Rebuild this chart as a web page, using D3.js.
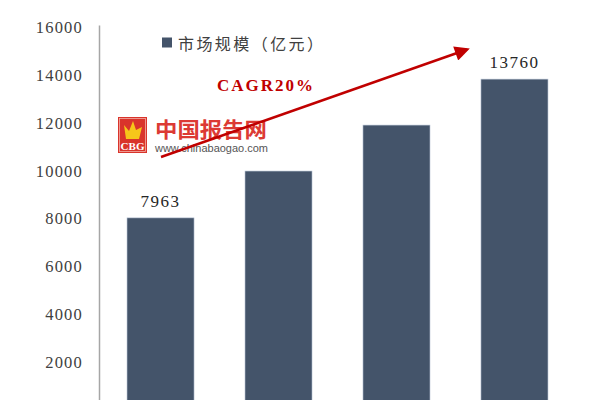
<!DOCTYPE html>
<html>
<head>
<meta charset="utf-8">
<script src="https://cdn.jsdelivr.net/npm/d3@7/dist/d3.min.js"></script>
<style>
  html, body { margin: 0; padding: 0; background: #fff; }
  svg { display: block; }
  .serif { font-family: "Liberation Serif", "Times New Roman", serif; }
</style>
</head>
<body>
<svg id="chart" width="600" height="400"></svg>
<script>
// ---- data ----
const categories = ["2016", "2017", "2018", "2019"];
const marketSize = [7963, 9920, 11840, 13760];      // 市场规模（亿元）
const labelShown = [true, false, false, true];
const yTicks = [2000, 4000, 6000, 8000, 10000, 12000, 14000, 16000];
const legendLabel = "市场规模（亿元）";
const cagrLabel = "CAGR20%";

// ---- layout ----
const svg = d3.select("#chart");
const x = d3.scaleBand().domain(categories).range([100, 575])
  .paddingInner(0.432).paddingOuter(0.229);
const y = d3.scaleLinear().domain([0, 16000]).range([408.5, 25.5]);

const barColor = "#44546a";
const textColor = "#404040";
const red = "#c00000";

// y axis line
svg.append("line")
  .attr("x1", 99.5).attr("x2", 99.5)
  .attr("y1", y(16000)).attr("y2", y(0))
  .attr("stroke", "#a6a6a6").attr("stroke-width", 1.5);

// y axis labels via d3 axis
const yAxis = d3.axisLeft(y).tickValues(yTicks).tickSize(0).tickPadding(0)
  .tickFormat(d3.format("d"));
const gy = svg.append("g").attr("transform", "translate(83,0)").call(yAxis);
gy.attr("font-family", null).attr("font-size", null);
gy.select(".domain").remove();
gy.selectAll("text")
  .attr("class", "serif")
  .style("font-family", '"Liberation Serif", "Times New Roman", serif')
  .style("font-size", "16.5px")
  .style("letter-spacing", "1.2px")
  .attr("fill", textColor)
  .attr("dy", "0.42em");

// bars
svg.selectAll("rect.bar").data(marketSize).enter().append("rect")
  .attr("class", "bar")
  .attr("x", (d, i) => x(categories[i]))
  .attr("width", x.bandwidth())
  .attr("y", d => y(d))
  .attr("height", d => y(0) - y(d))
  .attr("fill", barColor)
  .attr("stroke", "#b8c4d4").attr("stroke-width", 0.6);

// data labels
const labelData = marketSize.map((v, i) => ({ v, c: categories[i], show: labelShown[i] }))
  .filter(d => d.show);
svg.selectAll("text.val").data(labelData)
  .enter().append("text")
  .attr("class", "val")
  .attr("x", d => x(d.c) + x.bandwidth() / 2)
  .attr("y", d => y(d.v) - 11)
  .attr("text-anchor", "middle")
  .style("font-family", '"Liberation Serif", "Times New Roman", serif')
  .style("font-size", "17px")
  .style("letter-spacing", "1.5px")
  .attr("fill", "#262626")
  .text(d => d.v);

// legend
svg.append("rect").attr("x", 162).attr("y", 37.5).attr("width", 10).attr("height", 10)
  .attr("fill", barColor);
svg.append("text").attr("x", 178).attr("y", 50)
  .style("font-family", '"Noto Sans CJK SC", sans-serif')
  .style("font-size", "16px")
  .attr("textLength", 145).attr("lengthAdjust", "spacing")
  .attr("fill", textColor)
  .text(legendLabel);

// watermark logo
const logo = svg.append("g").attr("transform", "translate(118,117)");
logo.append("rect").attr("width", 29).attr("height", 36).attr("fill", "#d9342b");
logo.append("rect").attr("x", 1.5).attr("y", 1.5).attr("width", 26).attr("height", 33)
  .attr("fill", "none").attr("stroke", "#f3b0a8").attr("stroke-width", 0.8);
logo.append("path").attr("d", "M6,8 L11,14 L15,4 L18,13 L24,10 L21,22 L8,22 Z")
  .attr("fill", "#f6c61a");
logo.append("text").attr("x", 14.5).attr("y", 33).attr("text-anchor", "middle")
  .style("font-family", '"Liberation Serif", serif').style("font-size", "10px")
  .style("font-weight", "bold").attr("fill", "#fff")
  .attr("textLength", 24).attr("lengthAdjust", "spacingAndGlyphs").text("CBG");
svg.append("text").attr("x", 155).attr("y", 137)
  .style("font-family", '"Noto Sans CJK SC", sans-serif')
  .style("font-size", "21px").style("font-weight", "bold")
  .attr("textLength", 112).attr("lengthAdjust", "spacingAndGlyphs")
  .attr("fill", "#dc3a34").text("中国报告网");
svg.append("text").attr("x", 155).attr("y", 152)
  .style("font-family", '"Liberation Sans", Arial, sans-serif')
  .style("font-size", "11px")
  .attr("textLength", 113).attr("lengthAdjust", "spacingAndGlyphs")
  .attr("fill", "#555").text("www.chinabaogao.com");

// CAGR arrow
const defs = svg.append("defs");
defs.append("marker").attr("id", "arrow")
  .attr("viewBox", "0 0 10 10").attr("refX", 8).attr("refY", 5)
  .attr("markerWidth", 6.5).attr("markerHeight", 6).attr("orient", "auto")
  .attr("markerUnits", "strokeWidth")
  .append("path").attr("d", "M0,0 L10,5 L0,10 Z").attr("fill", red);

const arrowStart = [161, 157];
const arrowEnd = [467, 49.5];
svg.append("line")
  .attr("x1", arrowStart[0]).attr("y1", arrowStart[1])
  .attr("x2", arrowEnd[0]).attr("y2", arrowEnd[1])
  .attr("stroke", red).attr("stroke-width", 2.5)
  .attr("marker-end", "url(#arrow)");

svg.append("text").attr("x", 217).attr("y", 91)
  .style("font-family", '"Liberation Serif", "Times New Roman", serif')
  .style("font-size", "17px").style("font-weight", "bold")
  .attr("textLength", 96).attr("lengthAdjust", "spacing")
  .attr("fill", red).text(cagrLabel);
</script>
</body>
</html>
